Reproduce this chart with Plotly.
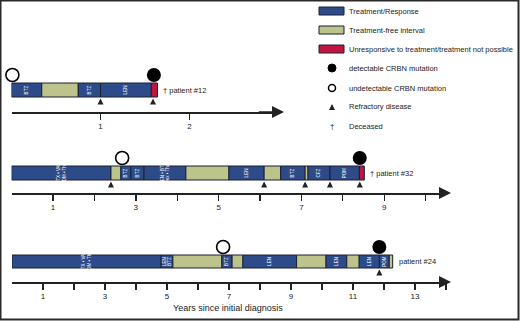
import plotly.graph_objects as go

W, H = 520, 321
BLUE = "#2d4b89"
GREEN = "#bcc48b"
RED = "#c21440"
EDGE = "#1b1f33"
INK = "#222222"
FONT = "Liberation Sans, Arial, sans-serif"
COLORS = {"T": BLUE, "F": GREEN, "U": RED}

# ---------------- data (years since initial diagnosis) ----------------
# patient #12
p12_start = [0.0, 0.34, 0.75, 1.0, 1.57]
p12_end = [0.34, 0.75, 1.0, 1.57, 1.64]
p12_kind = ["T", "F", "T", "T", "U"]
p12_label = ["BTZ", "", "BTZ", "LEN", ""]
p12_undetect = [0.01]
p12_detect = [1.60]
p12_refractory = [1.0, 1.59]
p12_ticks = [1, 2]
p12_ticktext = ["1", "2"]

# patient #32
p32_start = [0.0, 2.40, 2.64, 2.88, 3.20, 4.21, 5.25, 6.10, 6.50, 7.09, 7.16, 7.69, 8.40]
p32_end = [2.40, 2.64, 2.88, 3.20, 4.21, 5.25, 6.10, 6.50, 7.09, 7.16, 7.69, 8.40, 8.52]
p32_kind = ["T", "F", "T", "T", "T", "F", "T", "F", "T", "F", "T", "T", "U"]
p32_label = ["CTX • VAD<br>HDM • Thal", "", "BTZ", "BTZ", "LEN • BTZ<br>Dex • Thal", "", "LEN", "",
             "BTZ", "", "CFZ", "POM", ""]
p32_undetect = [2.67]
p32_detect = [8.41]
p32_refractory = [2.40, 6.10, 7.09, 7.69, 8.41]
p32_ticks = [1, 2, 3, 4, 5, 6, 7, 8, 9, 10]
p32_ticktext = ["1", "", "3", "", "5", "", "7", "", "9", ""]

# patient #24
p24_start = [0.0, 4.81, 5.19, 6.77, 7.10, 7.45, 9.18, 10.13, 10.80, 11.20, 11.85, 12.17]
p24_end = [4.81, 5.19, 6.77, 7.10, 7.45, 9.18, 10.13, 10.80, 11.20, 11.85, 12.17, 12.28]
p24_kind = ["T", "T", "F", "T", "F", "T", "F", "T", "F", "T", "T", "F"]
p24_label = ["CTX • VAD<br>HDM • Thal", "LEN<br>BTZ", "", "BTZ", "", "LEN", "", "LEN", "", "LEN", "POM", ""]
p24_undetect = [6.81]
p24_detect = [11.85]
p24_refractory = [11.85]
p24_ticks = list(range(1, 15))
p24_ticktext = ["1", "", "3", "", "5", "", "7", "", "9", "", "11", "", "13", ""]

patients = [
    dict(name="† patient #12", start=p12_start, end=p12_end, kind=p12_kind, label=p12_label,
         undet=p12_undetect, det=p12_detect, refr=p12_refractory, ticks=p12_ticks, ticktext=p12_ticktext,
         origin=11.5, ppy=89.0, axis_y=112, tip=284, bar_c=22, bar_h=14, circ_y=37, arr_y=10),
    dict(name="† patient #32", start=p32_start, end=p32_end, kind=p32_kind, label=p32_label,
         undet=p32_undetect, det=p32_detect, refr=p32_refractory, ticks=p32_ticks, ticktext=p32_ticktext,
         origin=11.6, ppy=41.4, axis_y=193, tip=451, bar_c=20, bar_h=14, circ_y=35, arr_y=8),
    dict(name="patient #24", start=p24_start, end=p24_end, kind=p24_kind, label=p24_label,
         undet=p24_undetect, det=p24_detect, refr=p24_refractory, ticks=p24_ticks, ticktext=p24_ticktext,
         origin=12.0, ppy=31.0, axis_y=282, tip=451, bar_c=20.5, bar_h=13, circ_y=35, arr_y=9),
]

fig = go.Figure()
annotations = []
shapes = []
YSPAN = 50

for i, p in enumerate(patients, start=1):
    xa = "x" if i == 1 else f"x{i}"
    ya = "y" if i == 1 else f"y{i}"
    end_year = (p["tip"] - p["origin"]) / p["ppy"]
    dur = [e - s for s, e in zip(p["start"], p["end"])]
    fig.add_trace(go.Bar(
        orientation="h", y=[p["bar_c"]] * len(dur), x=dur, base=p["start"], width=p["bar_h"],
        marker=dict(color=[COLORS[k] for k in p["kind"]], line=dict(color=EDGE, width=1)),
        text=p["label"], textposition="inside", insidetextanchor="middle", textangle=-90,
        textfont=dict(size=4.5, color="white", family=FONT), constraintext="none",
        xaxis=xa, yaxis=ya, showlegend=False, hoverinfo="skip"))
    fig.add_trace(go.Scatter(
        x=p["undet"], y=[p["circ_y"]] * len(p["undet"]), mode="markers", cliponaxis=False,
        marker=dict(size=13, color="white", line=dict(color="black", width=1.6)),
        xaxis=xa, yaxis=ya, showlegend=False, hoverinfo="skip"))
    fig.add_trace(go.Scatter(
        x=p["det"], y=[p["circ_y"]] * len(p["det"]), mode="markers", cliponaxis=False,
        marker=dict(size=14, color="black"),
        xaxis=xa, yaxis=ya, showlegend=False, hoverinfo="skip"))
    for r in p["refr"]:
        annotations.append(dict(x=r, y=p["arr_y"] + 3.5, xref=xa, yref=ya, ax=0, ay=7, text="",
                                showarrow=True, arrowhead=2, arrowsize=1.1, arrowwidth=1.1,
                                arrowcolor=INK, standoff=0))
    annotations.append(dict(x=p["end"][-1], y=p["bar_c"], xref=xa, yref=ya, text=p["name"],
                            showarrow=False, xanchor="left", xshift=4,
                            font=dict(size=7.5, color=INK, family=FONT)))
    # axis arrowhead
    annotations.append(dict(x=end_year, y=0, xref=xa, yref=ya, ax=end_year - 0.3, ay=0,
                            axref=xa, ayref=ya, text="", showarrow=True, arrowhead=2,
                            arrowsize=1.5, arrowwidth=1.6, arrowcolor=INK, standoff=0))
    ydom0 = (H - p["axis_y"]) / H
    fig.layout[("xaxis" if i == 1 else f"xaxis{i}")] = dict(
        domain=[p["origin"] / W, (p["tip"] - 4) / W], range=[0, (p["tip"] - 4 - p["origin"]) / p["ppy"]],
        anchor=ya, showline=True, linecolor=INK, linewidth=1.6, showgrid=False, zeroline=False,
        ticks="outside", ticklen=6, tickwidth=1.4, tickcolor=INK,
        tickvals=p["ticks"], ticktext=p["ticktext"],
        tickfont=dict(size=8, color=INK, family=FONT), fixedrange=True)
    fig.layout[("yaxis" if i == 1 else f"yaxis{i}")] = dict(
        domain=[ydom0, ydom0 + YSPAN / H], range=[0, YSPAN], anchor=xa,
        visible=False, fixedrange=True)

# ---------------- legend (drawn in pixel positions) ----------------
def px(x):
    return x / W

def py(y):
    return 1 - y / H

leg_labels = ["Treatment/Response", "Treatment-free interval",
              "Unresponsive to treatment/treatment not possible",
              "detectable CRBN mutation", "undetectable CRBN mutation",
              "Refractory disease", "Deceased"]
leg_rows = [11, 30, 49, 68, 88, 107, 126]
for lab, ry in zip(leg_labels, leg_rows):
    annotations.append(dict(x=px(347), y=py(ry), xref="paper", yref="paper", text=lab,
                            showarrow=False, xanchor="left", yanchor="middle",
                            font=dict(size=7.5, color=INK, family=FONT)))
for col, ry in zip([BLUE, GREEN, RED], leg_rows[:3]):
    shapes.append(dict(type="rect", xref="paper", yref="paper", x0=px(319), x1=px(344),
                       y0=py(ry + 4), y1=py(ry - 4), fillcolor=col, line=dict(color=EDGE, width=1)))
shapes.append(dict(type="circle", xref="paper", yref="paper", x0=px(328), x1=px(336),
                   y0=py(leg_rows[3] + 4), y1=py(leg_rows[3] - 4), fillcolor="black",
                   line=dict(color="black", width=1)))
shapes.append(dict(type="circle", xref="paper", yref="paper", x0=px(328.5), x1=px(335.5),
                   y0=py(leg_rows[4] + 3.5), y1=py(leg_rows[4] - 3.5), fillcolor="white",
                   line=dict(color="black", width=1.5)))
annotations.append(dict(x=px(332), y=py(leg_rows[5] - 3), xref="paper", yref="paper", ax=0, ay=6,
                        text="", showarrow=True, arrowhead=2, arrowsize=1.1, arrowwidth=1.1,
                        arrowcolor=INK, standoff=0))
annotations.append(dict(x=px(332), y=py(leg_rows[6]), xref="paper", yref="paper", text="†",
                        showarrow=False, yanchor="middle", font=dict(size=8, color=INK, family=FONT)))

# axis title
annotations.append(dict(x=px(228), y=py(308), xref="paper", yref="paper",
                        text="Years since initial diagnosis", showarrow=False,
                        xanchor="center", yanchor="middle",
                        font=dict(size=9, color=INK,
                                  family="Liberation Sans Narrow, Arial Narrow, Liberation Sans, sans-serif")))

# outer frame
shapes.append(dict(type="rect", xref="paper", yref="paper", x0=px(0.5), x1=px(518.5),
                   y0=py(319.5), y1=py(0.5), line=dict(color="#2a2a2a", width=2), layer="above"))

fig.update_layout(width=W, height=H, margin=dict(l=0, r=0, t=0, b=0),
                  paper_bgcolor="white", plot_bgcolor="white",
                  annotations=annotations, shapes=shapes, showlegend=False,
                  uniformtext=dict(minsize=4, mode="show"))
fig.write_html("out.html", config={"staticPlot": True},
               post_script="document.body.style.margin='0';document.body.style.padding='0';")
